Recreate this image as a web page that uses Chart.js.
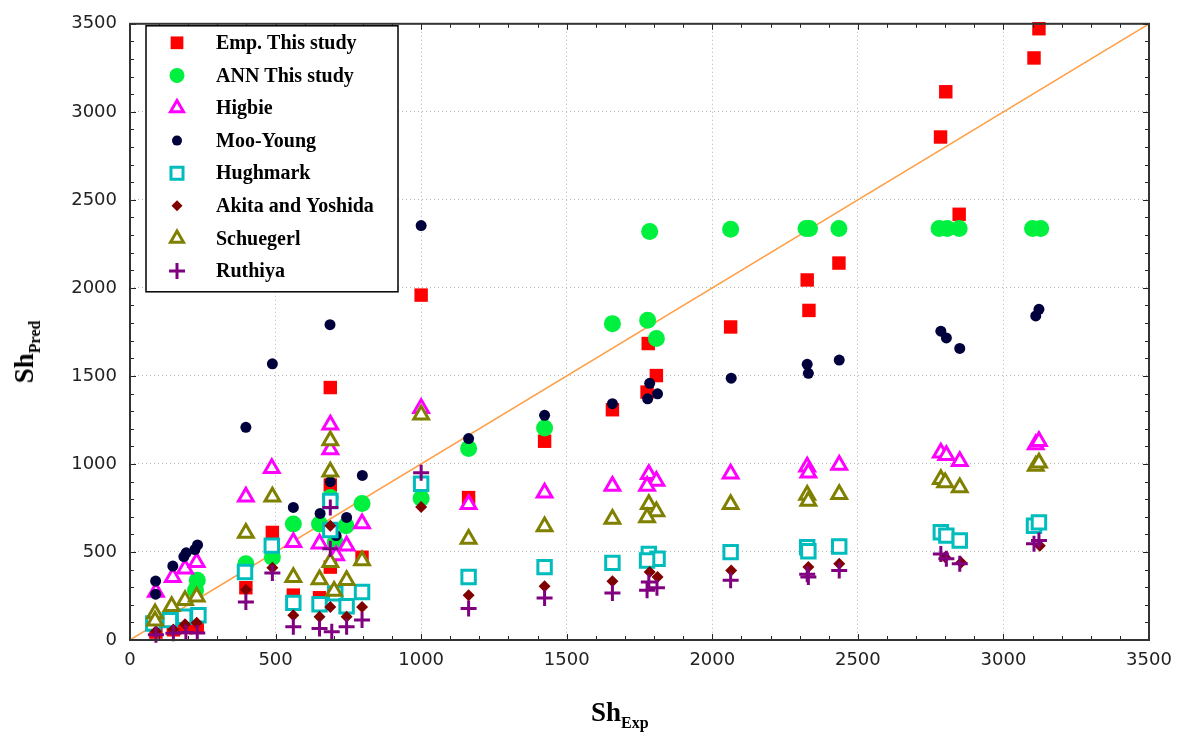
<!DOCTYPE html>
<html>
<head>
<meta charset="utf-8">
<script src="https://cdn.jsdelivr.net/npm/chart.js@4/dist/chart.umd.min.js"></script>
<style>
  html, body { margin: 0; padding: 0; background: #fff; }
  #wrap { position: relative; width: 1184px; height: 736px; }
  #chart { position: absolute; left: 0; top: 0; }
  .axis-title {
    position: absolute;
    font-family: "Liberation Serif", "Times New Roman", serif;
    font-weight: bold;
    font-size: 27px;
    color: #000;
    white-space: nowrap;
    line-height: 1;
  }
  .axis-title sub { font-size: 16px; vertical-align: -7px; }
  #xTitle { left: 591px; top: 699px; }
  #yTitle { left: 27px; top: 352px; transform: translate(-50%, -50%) rotate(-90deg); }
</style>
</head>
<body>
<div id="wrap">
  <canvas id="chart" width="1184" height="736"></canvas>
  <div class="axis-title" id="xTitle">Sh<sub>Exp</sub></div>
  <div class="axis-title" id="yTitle">Sh<sub>Pred</sub></div>
</div>
<script>
"use strict";

// ── 数据（Sh_Exp, Sh_Pred） ───────────────────────────
const axisMin = 0;
const axisMax = 3500;
const majorStep = 500;
const minorStep = 100;
const parityLine = [0, 3500];

const empPoints = [
  [89, 45], [149, 58], [193, 70], [231, 80], [398, 297], [489, 611], [561, 255], [651, 240],
  [688, 1434], [688, 880], [688, 414], [797, 470], [1000, 1959], [1163, 809], [1424, 1129],
  [1657, 1308], [1780, 1684], [1808, 1502], [1776, 1408], [2063, 1778], [2326, 2045],
  [2332, 1872], [2435, 2141], [2784, 2857], [2802, 3114], [2848, 2418], [3105, 3306], [3122, 3472],
];
const annPoints = [
  [231, 339], [225, 282], [398, 433], [489, 470], [561, 659], [651, 659], [688, 810], [705, 555],
  [742, 649], [797, 775], [1000, 805], [1163, 1088], [1424, 1204], [1657, 1797], [1778, 1816],
  [1808, 1712], [1785, 2320], [2063, 2333], [2322, 2337], [2334, 2337], [2435, 2337],
  [2779, 2337], [2807, 2337], [2848, 2337], [3100, 2337], [3128, 2337],
];
const higbiePoints = [
  [89, 273], [147, 357], [189, 405], [229, 442], [398, 813], [487, 975], [561, 555], [651, 546],
  [688, 1223], [688, 1082], [708, 480], [744, 536], [797, 662], [1000, 1317], [1163, 771],
  [1424, 837], [1657, 875], [1782, 941], [1808, 903], [1776, 875], [2063, 945], [2326, 984],
  [2330, 950], [2436, 994], [2785, 1063], [2804, 1050], [2850, 1016], [3111, 1110], [3122, 1129],
];
const mooYoungPoints = [
  [88, 335], [88, 260], [147, 420], [185, 474], [193, 495], [223, 514], [232, 540], [398, 1208],
  [489, 1569], [561, 753], [653, 719], [687, 1791], [688, 899], [708, 593], [744, 696], [798, 935],
  [1000, 2354], [1163, 1144], [1424, 1276], [1657, 1342], [1785, 1458], [1812, 1398], [1778, 1370],
  [2065, 1487], [2326, 1566], [2330, 1515], [2436, 1590], [2785, 1754], [2804, 1716], [2850, 1656],
  [3111, 1841], [3122, 1878],
];
const hughmarkPoints = [
  [80, 94], [137, 113], [186, 132], [235, 141], [395, 386], [487, 536], [561, 211], [651, 203],
  [688, 790], [688, 625], [705, 265], [744, 192], [797, 273], [1000, 888], [1163, 358], [1424, 414],
  [1657, 438], [1782, 489], [1812, 461], [1776, 452], [2063, 499], [2326, 527], [2330, 504],
  [2436, 531], [2785, 612], [2804, 593], [2850, 565], [3105, 649], [3122, 668],
];
const akitaPoints = [
  [89, 50], [149, 60], [189, 90], [229, 98], [398, 285], [489, 410], [561, 141], [651, 132],
  [688, 649], [688, 188], [744, 132], [797, 188], [1000, 756], [1163, 254], [1424, 305],
  [1657, 333], [1785, 386], [1812, 358], [2065, 395], [2330, 414], [2436, 433], [2800, 470],
  [2855, 440], [3125, 536],
];
const schuegerlPoints = [
  [86, 150], [86, 110], [143, 192], [189, 226], [229, 245], [398, 608], [489, 813], [561, 357],
  [651, 343], [688, 1133], [688, 956], [688, 442], [701, 278], [744, 339], [797, 452], [1000, 1280],
  [1163, 574], [1424, 644], [1657, 687], [1782, 771], [1808, 730], [1776, 696], [2063, 771],
  [2326, 824], [2330, 790], [2436, 828], [2785, 913], [2800, 894], [2850, 866], [3111, 988], [3122, 1007],
];
const ruthiyaPoints = [
  [89, 30], [149, 38], [192, 42], [231, 40], [398, 216], [489, 380], [561, 75], [651, 66],
  [688, 753], [688, 518], [693, 47], [744, 75], [797, 113], [1000, 950], [1163, 179], [1424, 239],
  [1657, 267], [1782, 329], [1810, 297], [1776, 282], [2063, 339], [2326, 373], [2330, 358],
  [2436, 395], [2785, 489], [2804, 461], [2850, 433], [3105, 546], [3122, 565],
];

// ── 系列样式 ────────────────────────────────────────────────
const series = [
  { label: "Emp. This study",   pts: empPoints,       style: "rect",     r: 9.5, fill: "#ff0000", line: "#ff0000", w: 0, lr: 9 },
  { label: "ANN This study",    pts: annPoints,       style: "circle",   r: 8.5, fill: "#00f040", line: "#00f040", w: 0, lr: 7.5 },
  { label: "Higbie",            pts: higbiePoints,    style: "triangle", r: 8.5, fill: "#ffffff", line: "#ff00ff", w: 3, lr: 7.5 },
  { label: "Moo-Young",         pts: mooYoungPoints,  style: "circle",   r: 5.5, fill: "#00003c", line: "#00003c", w: 0, lr: 5 },
  { label: "Hughmark",          pts: hughmarkPoints,  style: "rect",     r: 9.5, fill: "#ffffff", line: "#00bcbc", w: 3, lr: 8.5 },
  { label: "Akita and Yoshida", pts: akitaPoints,     style: "rectRot",  r: 6,   fill: "#800000", line: "#800000", w: 0, lr: 5.5 },
  { label: "Schuegerl",         pts: schuegerlPoints, style: "triangle", r: 8.5, fill: "#ffffff", line: "#808000", w: 3, lr: 7.5 },
  { label: "Ruthiya",           pts: ruthiyaPoints,   style: "cross",    r: 8,   fill: "#800080", line: "#800080", w: 3, lr: 8 },
];

const datasets = series.map((s, i) => ({
  type: "scatter",
  label: s.label,
  data: s.pts.map(([x, y]) => ({ x, y })),
  pointStyle: s.style,
  pointRadius: s.r,
  pointBackgroundColor: s.fill,
  pointBorderColor: s.line,
  pointBorderWidth: s.w,
  order: series.length - i, // 第一个系列画在最底层
  clip: false,
}));

datasets.push({
  type: "line",
  label: "y = x",
  data: parityLine.map((v) => ({ x: v, y: v })),
  borderColor: "#ff9e45",
  borderWidth: 1.5,
  pointRadius: 0,
  order: 99,
});

// ── 边框、内向刻度、图例 ─────────────────────────────────────
const framePlugin = {
  id: "frame",
  afterDatasetsDraw(chart) {
    const { ctx, chartArea: a, scales } = chart;
    const x = scales.x, y = scales.y;
    ctx.save();
    ctx.strokeStyle = "#222";
    ctx.lineWidth = 1;
    ctx.beginPath();
    for (let v = axisMin; v <= axisMax; v += minorStep) {
      const len = v % majorStep === 0 ? 6 : 4;
      const px = Math.round(x.getPixelForValue(v)) + 0.5;
      const py = Math.round(y.getPixelForValue(v)) + 0.5;
      ctx.moveTo(px, a.bottom); ctx.lineTo(px, a.bottom - len);
      ctx.moveTo(px, a.top); ctx.lineTo(px, a.top + len);
      ctx.moveTo(a.left, py); ctx.lineTo(a.left + len, py);
      ctx.moveTo(a.right, py); ctx.lineTo(a.right - len, py);
    }
    ctx.stroke();
    ctx.lineWidth = 2;
    ctx.strokeStyle = "#333";
    ctx.strokeRect(a.left, a.top, a.right - a.left, a.bottom - a.top);

    // 图例框
    const bx = a.left + 16, by = a.top + 2, bw = 252, bh = 266;
    ctx.fillStyle = "#fff";
    ctx.fillRect(bx, by, bw, bh);
    ctx.lineWidth = 1.5;
    ctx.strokeStyle = "#000";
    ctx.strokeRect(bx, by, bw, bh);
    ctx.font = "bold 20px 'Liberation Serif', 'Times New Roman', serif";
    ctx.textBaseline = "middle";
    series.forEach((s, i) => {
      const cy = by + 17 + i * 32.6;
      ctx.fillStyle = s.fill;
      ctx.strokeStyle = s.line;
      ctx.lineWidth = s.w;
      Chart.helpers.drawPoint(ctx, { pointStyle: s.style, radius: s.lr, rotation: 0, borderWidth: s.w }, bx + 31, cy);
      ctx.fillStyle = "#000";
      ctx.fillText(s.label, bx + 70, cy + 1);
    });
    ctx.restore();
  },
};

const tickFont = { family: "'DejaVu Sans', sans-serif", size: 18 };
const plainTick = (v) => String(v);

new Chart(document.getElementById("chart"), {
  data: { datasets },
  options: {
    responsive: false,
    animation: false,
    events: [],
    layout: { padding: { top: 20, right: 35, left: 0, bottom: 0 } },
    plugins: { legend: { display: false }, tooltip: { enabled: false } },
    scales: {
      x: {
        type: "linear",
        min: axisMin,
        max: axisMax,
        ticks: { stepSize: majorStep, color: "#222", font: tickFont, padding: 10, maxRotation: 0, callback: plainTick },
        grid: { color: "#b4b4b4", lineWidth: 1, drawTicks: false },
        border: { display: false, dash: [1, 3] },
        afterFit: (s) => { s.height = 96; },
      },
      y: {
        type: "linear",
        min: axisMin,
        max: axisMax,
        ticks: { stepSize: majorStep, color: "#222", font: tickFont, padding: 13, callback: plainTick },
        grid: { color: "#b4b4b4", lineWidth: 1, drawTicks: false },
        border: { display: false, dash: [1, 3] },
        afterFit: (s) => { s.width = 130; },
      },
    },
  },
  plugins: [framePlugin],
});
</script>
</body>
</html>
